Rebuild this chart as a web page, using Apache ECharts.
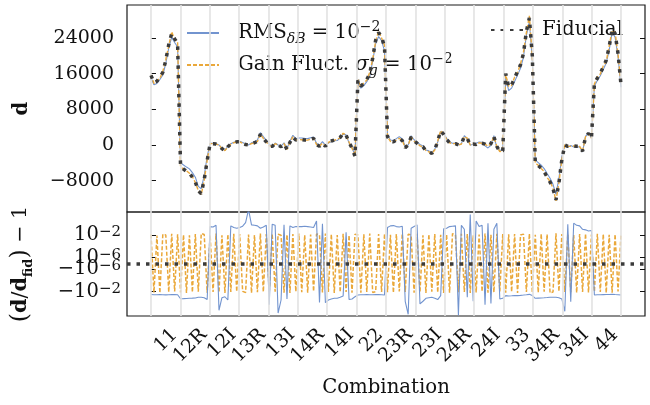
<!DOCTYPE html>
<html><head><meta charset="utf-8">
<script src="https://cdn.jsdelivr.net/npm/echarts@6/dist/echarts.min.js"></script>
<style>html,body{margin:0;padding:0;background:#fff}#c{width:650px;height:405px}</style>
</head><body><div id="c"></div>
<script>
// ---------------- data ----------------
const categories = ['11','12R','12I','13R','13I','14R','14I','22','23R','23I','24R','24I','33','34R','34I','44'];

// fiducial data vector d (10 bins per combination)
const fiducial = [
  15600, 14000, 14300, 15200, 16300, 19000, 22500, 25000, 23800, 22800,
  -4900, -5400, -5900, -6300, -7200, -8300, -10300, -10900, -7800, -3500,
  300, 300, 200, 0, -800, -1300, -400, 200, 500, 700,
  700, 400, 100, 0, 300, 500, 800, 2400, 1500, 700,
  -200, -300, 300, 0, -400, 300, -1000, 600, 1800, 1100,
  1200, 1200, 1100, 1100, 1300, 1500, 100, -300, 400, -300,
  600, 900, 1100, 1200, 1700, 2600, 2200, 600, -700, -2500,
  14500, 13200, 13800, 14700, 16000, 19500, 23500, 25200, 24300, 22000,
  1900, 800, 700, 1100, 1500, 1000, -600, 0, 1800, 900,
  400, -200, -400, -1300, -1500, -1900, -1100, 900, 3200, 2400,
  1300, 500, 300, 300, 0, 200, 1900, 1500, 0, 200,
  100, 500, 400, 200, -300, 300, 1900, -300, -1500, -1300,
  16000, 13000, 13500, 15000, 16500, 18000, 20500, 25500, 28500, 20000,
  -4000, -4600, -5200, -6000, -7200, -8300, -9800, -12300, -8500, -3200,
  0, -300, -300, -200, -300, -300, -1400, 1800, 2600, 1500,
  13800, 15000, 16100, 17500, 19000, 22000, 26000, 25000, 20500, 13500
];

// (d/d_fid) - 1 for RMS_dB = 1e-2
const rmsRatio = [
  -0.032, -0.036, -0.035, -0.034, -0.036, -0.038, -0.035, -0.033, -0.034, -0.036,
  -0.18, -0.17, -0.16, -0.15, -0.14, -0.13, -0.1, -0.1, -0.12, -0.25,
  0.3, 0.25, 0.5, -20, -0.12, -0.08, -0.3, 0.4, 0.2, 0.15,
  0.2, 0.35, 1.5, 300, 0.6, 0.5, 0.4, 0.15, 0.25, 0.5,
  -2, 0.8, 0.5, -60, -0.3, 0.6, -0.2, 0.4, 0.2, 0.3,
  0.3, 0.3, 0.35, 0.3, 0.25, 0.2, 3, -0.8, 0.9, -0.9,
  -0.3, -0.2, -0.15, -0.15, -0.1, -0.06, 0.03, -0.25, -0.2, -0.08,
  -0.04, -0.035, -0.035, -0.034, -0.036, -0.035, -0.033, -0.034, -0.036, -0.04,
  0.2, 0.4, 0.45, 0.3, 0.25, 0.35, -0.5, -100, 0.15, 0.3,
  0.6, -1.5, -0.5, -0.15, -0.12, -0.1, -0.15, -0.25, -0.05, 0.12,
  0.15, 0.3, 0.35, 0.4, -150, 0.5, 0.1, -0.1, 40, -0.5,
  3, 0.3, 0.5, -2, 1.2, -1.2, 0.1, 1.2, -0.2, -0.15,
  -0.05, -0.06, -0.055, -0.05, -0.05, -0.045, -0.04, -0.035, -0.03, -0.05,
  -0.15, -0.14, -0.13, -0.12, -0.11, -0.1, -0.1, -0.1, -0.12, -0.2,
  -30, 0.8, -0.6, 1.2, 0.5, 0.4, 0.1, 0.08, 0.05, 0.06,
  -0.04, -0.035, -0.035, -0.034, -0.033, -0.032, -0.03, -0.033, -0.035, -0.04
];

// (d/d_fid) - 1 for gain fluctuation sigma_g = 1e-2
const gainRatio = [
  0.012, -0.015, 0.008, -0.018, 0.014, 0.01, -0.012, 0.016, -0.009, 0.013,
  -0.014, 0.011, -0.017, 0.009, -0.013, 0.015, -0.01, 0.018, 0.012, -0.016,
  0.01, -0.012, 0.017, -0.014, 0.009, -0.018, 0.013, -0.011, 0.016, -0.01,
  0.015, -0.009, -0.014, 0.012, -0.017, 0.01, -0.013, 0.018, -0.011, 0.014,
  -0.012, 0.016, -0.01, 0.013, 0.009, -0.015, 0.011, -0.018, 0.014, -0.01,
  0.017, -0.013, 0.01, -0.016, 0.012, -0.009, 0.015, 0.011, -0.014, 0.018,
  -0.011, 0.014, -0.017, 0.01, -0.013, 0.016, -0.012, 0.009, -0.015, 0.013,
  0.01, -0.016, 0.013, -0.011, 0.018, -0.014, -0.01, 0.015, -0.012, 0.017,
  -0.013, 0.011, -0.016, 0.014, -0.009, 0.017, -0.012, 0.013, 0.01, -0.015,
  0.016, -0.012, 0.009, -0.017, 0.013, -0.01, 0.015, -0.014, 0.011, -0.018,
  0.012, -0.015, 0.017, 0.01, -0.013, 0.016, -0.011, 0.014, -0.017, 0.009,
  -0.014, 0.012, -0.01, 0.018, -0.015, 0.011, -0.013, 0.016, -0.009, 0.014,
  -0.016, 0.013, -0.011, 0.015, -0.018, 0.01, 0.014, -0.012, 0.017, -0.013,
  0.011, -0.014, 0.016, -0.01, 0.013, -0.017, -0.012, 0.02, -0.009, 0.015,
  -0.012, 0.015, -0.013, 0.01, -0.016, 0.014, -0.011, 0.017, -0.014, 0.012,
  -0.01, 0.016, -0.012, 0.014, -0.017, 0.011, -0.015, 0.013, -0.009, 0.015
];

const topTicks = [-8000, 0, 8000, 16000, 24000];
const ratioTicks = [-1e-2, -1e-6, 1e-6, 1e-2];
const ratioTickText = ['−10{e|−2}', '−10{e|−6}', '10{e|−6}', '10{e|−2}'];

// ---------------- build ----------------
const FONT = 'DejaVu Serif';
const BLUE = '#7294cf', ORANGE = '#eaa83a', DARK = '#3b3b3b', GRIDC = '#e2e2e2';
const TICK = 19, BASE10 = 19.5, NAME = 19.7, LEG = 19.8;

const LINTHRESH = 1e-6, LINSCALE = 1.0;
function symlog(v) {
  const m = Math.abs(v);
  if (m <= LINTHRESH) return v / LINTHRESH * LINSCALE;
  return Math.sign(v) * (LINSCALE + Math.log10(m / LINTHRESH));
}
const nCat = categories.length;
const M = fiducial.length;
const xs = fiducial.map((_, j) => j * nCat / (M - 1));
const XMIN = -0.817, XMAX = nCat + 0.817;
const LABEL_OFF = 0.8;
const labelPos = categories.map((_, i) => i + LABEL_OFF);
const blockEdges = Array.from({length: nCat + 1}, (_, i) => ({xAxis: i}));
const ratioTickPos = ratioTicks.map(symlog);

const rmsTop = xs.map((x, j) => [x, fiducial[j] * (1 + rmsRatio[j])]);
const gainTop = xs.map((x, j) => [x, fiducial[j] * (1 + gainRatio[j])]);
const fidTop = xs.map((x, j) => [x, fiducial[j]]);
const rmsBot = xs.map((x, j) => [x, symlog(rmsRatio[j])]);
const gainBot = xs.map((x, j) => [x, symlog(gainRatio[j])]);

const fmtNum = v => (v < 0 ? '−' + Math.abs(v) : String(v));
const tickStyle = {show: true, inside: true, length: 5, lineStyle: {color: '#111', width: 1}};

const SUBL = Math.round(LEG * 0.7);
const legendRich = {
  sp: {width: 14},
  t: {fontFamily: FONT, fontSize: LEG, color: '#111', lineHeight: 26},
  i: {fontFamily: FONT, fontSize: LEG, fontStyle: 'italic', color: '#111', lineHeight: 26},
  s: {fontFamily: FONT, fontSize: SUBL, fontStyle: 'italic', color: '#111', lineHeight: 16, verticalAlign: 'bottom'},
  p: {fontFamily: FONT, fontSize: SUBL, color: '#111', lineHeight: 14, verticalAlign: 'top'}
};
const legendNames = {
  rms: '{sp|}{t|RMS}{s|δB}{t| = 10}{p|−2}',
  gain: '{sp|}{t|Gain Fluct. }{i|σ}{s|g}{t| = 10}{p|−2}',
  fid: '{sp|}{t|Fiducial}'
};
function mkLegend(name, left, top) {
  return {
    data: [name], left: left, top: top, orient: 'horizontal', selectedMode: false,
    itemWidth: 32, itemHeight: 14, padding: 0,
    itemStyle: {color: 'rgba(0,0,0,0)', borderColor: 'rgba(0,0,0,0)', borderWidth: 0},
    formatter: n => legendNames[n],
    textStyle: {rich: legendRich}
  };
}

const option = {
  animation: false,
  backgroundColor: '#fff',
  legend: [mkLegend('rms', 186, 20), mkLegend('gain', 186, 52), mkLegend('fid', 490, 20)],
  grid: [
    {left: 127, top: 5, width: 518, height: 207, show: true, borderColor: '#1a1a1a', borderWidth: 1.2, backgroundColor: 'transparent'},
    {left: 127, top: 212, width: 518, height: 104, show: true, borderColor: '#1a1a1a', borderWidth: 1.2, backgroundColor: 'transparent'}
  ],
  xAxis: [
    {type: 'value', gridIndex: 0, min: XMIN, max: XMAX, axisLine: {show: false}, axisTick: {show: false},
     axisLabel: {show: false}, splitLine: {show: false}},
    {type: 'value', gridIndex: 1, min: XMIN, max: XMAX, axisLine: {show: false}, axisTick: {show: false},
     splitLine: {show: false},
     axisLabel: {show: true, customValues: labelPos, rotate: 45, margin: 16,
       fontFamily: FONT, fontSize: TICK, color: '#111',
       formatter: v => categories[Math.round(v - LABEL_OFF)]},
     name: 'Combination', nameLocation: 'middle', nameGap: 62,
     nameTextStyle: {fontFamily: FONT, fontSize: NAME, color: '#111'}}
  ],
  yAxis: [
    {type: 'value', gridIndex: 0, min: -15030, max: 31400, axisLine: {show: false},
     axisTick: Object.assign({customValues: topTicks}, tickStyle), splitLine: {show: false},
     axisLabel: {customValues: topTicks, formatter: fmtNum, margin: 13, fontFamily: FONT, fontSize: TICK, color: '#111'},
     name: 'd', nameLocation: 'middle', nameRotate: 90, nameGap: 95,
     nameTextStyle: {fontFamily: FONT, fontSize: NAME, fontWeight: 'bold', color: '#111'}},
    {type: 'value', gridIndex: 0, position: 'right', min: -15030, max: 31400, axisLine: {show: false},
     axisTick: Object.assign({customValues: topTicks}, tickStyle), splitLine: {show: false},
     axisLabel: {show: false}},
    {type: 'value', gridIndex: 1, min: -9.3, max: 9.05, axisLine: {show: false},
     axisTick: Object.assign({customValues: ratioTickPos}, tickStyle), splitLine: {show: false},
     axisLabel: {customValues: ratioTickPos, margin: 6, fontFamily: FONT, fontSize: BASE10, color: '#111',
       formatter: v => ratioTickText[ratioTickPos.findIndex(p => Math.abs(p - v) < 1e-6)],
       rich: {e: {fontFamily: FONT, fontSize: Math.round(BASE10 * 0.75), color: '#111', verticalAlign: 'top', lineHeight: 12}}},
     name: '{p|(}{b|d}{t|/}{b|d}{s|fid}{p|)}{t| − 1}', nameLocation: 'middle', nameRotate: 90, nameGap: 92,
     nameTextStyle: {rich: {
       p: {fontFamily: FONT, fontSize: NAME + 4, color: '#111', lineHeight: 28},
       b: {fontFamily: FONT, fontSize: NAME + 1, fontWeight: 'bold', color: '#111', lineHeight: 28},
       t: {fontFamily: FONT, fontSize: NAME + 1, color: '#111', lineHeight: 28},
       s: {fontFamily: FONT, fontSize: Math.round(NAME * 0.65), fontWeight: 'bold', color: '#111', lineHeight: 18, verticalAlign: 'bottom'}
     }}},
    {type: 'value', gridIndex: 1, position: 'right', min: -9.3, max: 9.05, axisLine: {show: false},
     axisTick: Object.assign({customValues: ratioTickPos}, tickStyle), splitLine: {show: false},
     axisLabel: {show: false}}
  ],
  series: [
    {type: 'line', name: 'edges0', xAxisIndex: 0, yAxisIndex: 0, data: [], z: 0, silent: true,
     markLine: {silent: true, symbol: 'none', label: {show: false}, lineStyle: {color: GRIDC, width: 1.6, type: 'solid'}, data: blockEdges}},
    {type: 'line', name: 'edges1', xAxisIndex: 1, yAxisIndex: 2, data: [], z: 0, silent: true,
     markLine: {silent: true, symbol: 'none', label: {show: false}, lineStyle: {color: GRIDC, width: 1.6, type: 'solid'}, data: blockEdges}},
    {type: 'line', name: 'rms', xAxisIndex: 0, yAxisIndex: 0, data: rmsTop, symbol: 'none', z: 3,
     lineStyle: {color: BLUE, width: 1.1, type: 'solid'}, itemStyle: {color: BLUE}},
    {type: 'line', name: 'gain', xAxisIndex: 0, yAxisIndex: 0, data: gainTop, symbol: 'none', z: 4,
     lineStyle: {color: ORANGE, width: 1.4, type: [4, 2]}, itemStyle: {color: ORANGE}},
    {type: 'line', name: 'fid', xAxisIndex: 0, yAxisIndex: 0, data: fidTop, symbol: 'none', z: 5,
     lineStyle: {color: DARK, width: 3.5, type: [3.5, 6], cap: 'butt'}, itemStyle: {color: DARK}},
    {type: 'line', name: 'gain', xAxisIndex: 1, yAxisIndex: 2, data: gainBot, symbol: 'none', z: 3,
     lineStyle: {color: ORANGE, width: 1.5, type: [4, 2]}, itemStyle: {color: ORANGE}},
    {type: 'line', name: 'rms', xAxisIndex: 1, yAxisIndex: 2, data: rmsBot, symbol: 'none', z: 4,
     lineStyle: {color: BLUE, width: 1.1, type: 'solid'}, itemStyle: {color: BLUE}},
    {type: 'line', name: 'fid', xAxisIndex: 1, yAxisIndex: 2, data: [], symbol: 'none', z: 6,
     lineStyle: {color: DARK, width: 3.5, type: [3.5, 6], cap: 'butt'}, itemStyle: {color: DARK},
     markLine: {silent: true, symbol: 'none', label: {show: false},
       lineStyle: {color: DARK, width: 3.5, type: [3.5, 6], cap: 'butt'}, data: [{yAxis: 0}]}}
  ]
};
const chart = echarts.init(document.getElementById('c'));
chart.setOption(option);
</script>
</body></html>
